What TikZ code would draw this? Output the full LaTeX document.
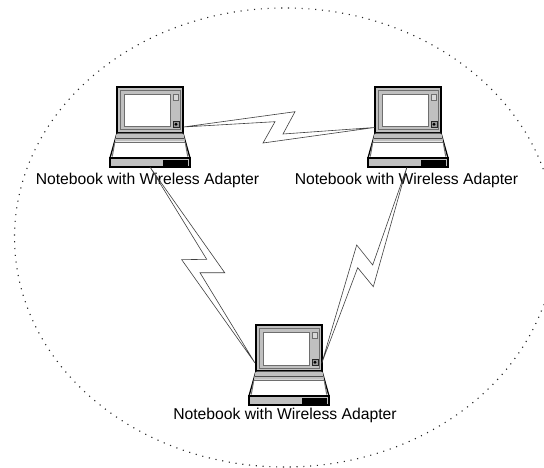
\documentclass[tikz,border=0pt]{standalone}
\usepackage{fontspec}
\setmainfont{Liberation Sans}
\definecolor{casegray}{RGB}{192,192,192}
\definecolor{edgegray}{RGB}{110,110,110}
\tikzset{
  x=1pt,y=-1pt,
  caseline/.style={draw=black,line width=1.3pt,line join=miter},
  thinline/.style={draw=edgegray,line width=1pt},
  bolt/.style={draw=black!75,line width=0.6pt,line join=miter},
  nametext/.style={font=\fontsize{15.7pt}{17pt}\selectfont,inner sep=0pt,anchor=center},
  laptop/.pic={
    \path[caseline,fill=casegray] (0,0) rectangle (66,46);
    \path[thinline] (3.5,3.5) rectangle (63,43);
    \path[thinline,fill=white] (7,7.5) rectangle (53.5,40);
    \path[draw=edgegray,line width=0.7pt,fill=casegray!60] (56.5,7.5) rectangle (61.5,13);
    \path[draw=black!85,line width=0.8pt,fill=edgegray!70] (56,34) rectangle (62,40.5);
    \fill[black] (59,37.3) circle (1.6);
    \path[caseline,fill=white] (0,46) -- (66,46) -- (73,71) -- (-7,71) -- cycle;
    \path[fill=casegray] (-0.5,47) -- (66.5,47) -- (68.2,54.5) -- (-2.2,54.5) -- cycle;
    \draw[draw=black!70,line width=0.7pt] (-1.2,51.5) -- (67.2,51.5);
    \draw[thinline] (-2.3,55.5) -- (68.3,55.5);
    \draw[thinline] (-2.3,55.5) -- (-4.7,69.5) (68.3,55.5) -- (70.7,69.5);
    \path[caseline,fill=casegray] (-7,71) rectangle (73,80);
    \fill[black] (46,73) rectangle (71,79);
  }
}
\begin{document}
\begin{tikzpicture}
\useasboundingbox[fill=white] (0,0) rectangle (544,468);
\begin{scope}
\clip (0,0) rectangle (543.6,468);
\draw[line width=1.1pt,draw=black!85,dash pattern=on 1.1pt off 5.7pt] (285,237.5) ellipse [x radius=270.5,y radius=229.5];
\end{scope}
\pic (A) at (117,87) {laptop};
\pic (B) at (375,87) {laptop};
\pic (C) at (256,325) {laptop};
\node[nametext] (la) at (147.5,180) {Notebook with Wireless Adapter};
\node[nametext] (lb) at (406.5,180) {Notebook with Wireless Adapter};
\node[nametext] (lc) at (285,415) {Notebook with Wireless Adapter};
\coordinate (ab1) at (183.5,127);
\coordinate (ab2) at (374.5,127.5);
\coordinate (ac1) at (150,167);
\coordinate (ac2) at (255,363);
\coordinate (bc1) at (407,167);
\coordinate (bc2) at (321.7,363.3);
\draw[bolt] (ab1) -- (295,111.7) -- (283,134) -- (ab2) -- (263,143) -- (275,121.7) -- cycle;
\draw[bolt] (ac1) -- (224.7,272.7) -- (200,272.7) -- (ac2) -- (181.7,259.7) -- (206.7,259.3) -- cycle;
\draw[bolt] (bc1) -- (372.7,265) -- (356.7,245) -- (bc2) -- (357.7,267.7) -- (373.3,286.7) -- cycle;
\end{tikzpicture}
\end{document}
